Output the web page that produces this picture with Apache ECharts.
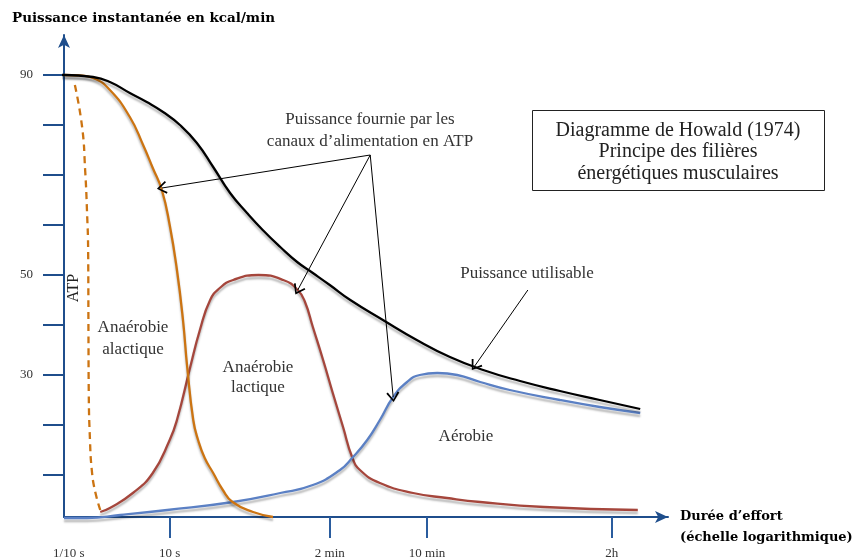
<!DOCTYPE html>
<html>
<head>
<meta charset="utf-8">
<script src="https://cdn.jsdelivr.net/npm/echarts@6/dist/echarts.min.js"></script>
<style>
html,body{margin:0;padding:0;background:#fff;}
#chart{width:858px;height:559px;}
</style>
</head>
<body>
<div id="chart"></div>
<script>
// x: position on the (schematic) logarithmic time axis, y: kcal/min
var xTickLabels = ['1/10 s', '10 s', '2 min', '10 min', '2h'];
var xTickPos = [0.8, 17.5, 44.0, 60.1, 90.7];
var xTickMarks = [17.5, 44.0, 60.1, 90.7];
var yTickMarks = [10, 20, 30, 40, 50, 60, 70, 80, 90];
var yTickLabels = [30, 50, 90];

var puissanceUtilisable = [
  [-3.5, 90], [0, 90], [4.8, 89.6], [7.6, 88.6], [10.9, 86.4], [13.7, 84.6],
  [16.4, 82.6], [19.2, 80], [22.0, 76.4], [24.7, 71.6], [27.5, 66.4],
  [30.3, 62.4], [32.9, 59], [35.8, 55.6], [38.6, 52.6], [41.2, 50.4],
  [44.0, 48], [47.4, 45], [52.8, 41], [58.4, 37],
  [63.9, 33.6], [69.4, 31], [75.5, 28.8], [82.1, 26.8], [88.7, 25], [95.4, 23.2]
];
var anaerobieAlactique = [
  [0, 90], [2.6, 89.9], [4.8, 89.4], [7.6, 87], [10.9, 81.6], [13.1, 76],
  [14.7, 71.4], [16.2, 67], [17.5, 60], [18.7, 51], [19.7, 41],
  [20.4, 31.6], [21.4, 21], [22.2, 17], [23.3, 13.4], [24.7, 10.4],
  [26.3, 7], [27.9, 4.6], [31.3, 2.6], [34.6, 1.6]
];
var atp = [
  [1.8, 88], [3.0, 79.6], [3.5, 71], [3.8, 63], [4.0, 54.4], [4.05, 38.4],
  [4.1, 26.4], [4.3, 17], [4.6, 11], [5.1, 7], [6.0, 3]
];
var anaerobieLactique = [
  [6.0, 2.6], [7.6, 3.4], [11.4, 6.4], [14.7, 10.4], [17.5, 17], [18.7, 21],
  [20.9, 31.6], [22.5, 39], [24.2, 45], [25.8, 47.4], [28.0, 49], [32.2, 50],
  [36.3, 49], [38.7, 47], [39.9, 44.6], [41.2, 39.6], [42.9, 33], [44.5, 26.4],
  [46.2, 19.6], [47.7, 13.6], [49.0, 11], [52.3, 8.4], [57.8, 6.4],
  [63.4, 5.4], [68.9, 4.6], [79.5, 3.6], [95.0, 3]
];
var aerobie = [
  [0, 1.4], [3.8, 1.4], [9.3, 2], [17.1, 3], [28.0, 4.6], [35.8, 6.4],
  [41.2, 8], [45.7, 11], [47.7, 13.4], [50.2, 17], [52.3, 21], [54.5, 25.6],
  [56.8, 28.6], [58.9, 30], [61.8, 30.4], [65.1, 30], [68.9, 28.6],
  [73.8, 27], [82.1, 25], [88.7, 23.6], [95.4, 22.4]
];
// annotation arrows [from, to] in data units
var arrowFrom = [50.7, 74];
var arrowTargets = [[16.2, 67.4], [38.7, 47], [54.5, 25.6]];
var arrowUtilisable = [[76.8, 47], [68.0, 31.8]];

var serif = '"Liberation Serif", "DejaVu Serif", serif';
var bold = '"DejaVu Serif", serif';
var axisBlue = '#1f4e8c';
var shadow = {shadowColor: 'rgba(0,0,0,0.28)', shadowBlur: 2, shadowOffsetY: 3};

function curve(name, data, color, extra) {
  return Object.assign({
    name: name, type: 'line', data: data, smooth: 0.5,
    showSymbol: false, clip: false, silent: true,
    lineStyle: Object.assign({color: color, width: 2.3}, shadow)
  }, extra || {});
}

var arrowSymbol = 'path://M5,0 L10,9 L8.8,10 L5,2.6 L1.2,10 L0,9 Z';
var mlData = arrowTargets.map(function (t) {
  return [{coord: arrowFrom}, {coord: t}];
});
mlData.push([{coord: arrowUtilisable[0]}, {coord: arrowUtilisable[1]}]);

var chart = echarts.init(document.getElementById('chart'), null, {renderer: 'canvas'});
chart.setOption({
  animation: false,
  backgroundColor: '#fff',
  grid: {left: 64, right: 190, top: 35, bottom: 42, outerBoundsMode: 'none'},
  xAxis: {
    type: 'value', min: 0, max: 100,
    splitLine: {show: false},
    axisLine: {onZero: false, lineStyle: {color: axisBlue, width: 2},
      symbol: ['none', 'arrow'], symbolSize: [9, 13]},
    axisTick: {show: true, inside: false, length: 21, customValues: xTickMarks,
      lineStyle: {color: '#2a5c9e', width: 2}},
    axisLabel: {customValues: xTickPos, margin: 30, color: '#333',
      fontFamily: serif, fontSize: 13,
      formatter: function (v) {
        var i = xTickPos.indexOf(v);
        return i >= 0 ? xTickLabels[i] : '';
      }}
  },
  yAxis: {
    type: 'value', min: 1.6, max: 98,
    splitLine: {show: false},
    axisLine: {onZero: false, lineStyle: {color: axisBlue, width: 2},
      symbol: ['none', 'arrow'], symbolSize: [9, 13]},
    axisTick: {show: true, inside: false, length: 21, customValues: yTickMarks,
      lineStyle: {color: axisBlue, width: 2}},
    axisLabel: {customValues: yTickLabels, margin: 31, color: '#333',
      fontFamily: serif, fontSize: 13}
  },
  series: [
    curve('Anaérobie lactique', anaerobieLactique, '#a5463c'),
    curve('Aérobie', aerobie, '#5b80c4'),
    curve('Anaérobie alactique', anaerobieAlactique, '#cc7412'),
    curve('ATP', atp, '#cc7412', {lineStyle: {color: '#cc7412', width: 2.3, type: [7, 5]}}),
    curve('Puissance utilisable', puissanceUtilisable, '#000', {
      markLine: {
        silent: true, symbol: ['none', arrowSymbol], symbolSize: [13, 10],
        label: {show: false},
        lineStyle: {color: '#000', width: 1, type: 'solid'},
        emphasis: {disabled: true},
        data: mlData
      }
    })
  ],
  graphic: [
    {type: 'text', x: 12, y: 18, style: {text: 'Puissance instantanée en kcal/min',
      font: 'bold 13.5px ' + bold, fill: '#000', textVerticalAlign: 'middle'}},
    {type: 'text', x: 680, y: 506, style: {text: 'Durée d\u2019effort\n(échelle logarithmique)',
      font: 'bold 13px ' + bold, fill: '#000', textVerticalAlign: 'top', lineHeight: 21}},
    {type: 'text', x: 74, y: 288, rotation: Math.PI / 2, style: {text: 'ATP',
      font: '16px ' + serif, fill: '#222', textAlign: 'center', textVerticalAlign: 'middle'}},
    {type: 'text', x: 133, y: 339, style: {text: 'Anaérobie\nalactique', lineHeight: 22,
      font: '17px ' + serif, fill: '#333', textAlign: 'center', textVerticalAlign: 'middle'}},
    {type: 'text', x: 258, y: 378, style: {text: 'Anaérobie\nlactique', lineHeight: 20,
      font: '17px ' + serif, fill: '#333', textAlign: 'center', textVerticalAlign: 'middle'}},
    {type: 'text', x: 466, y: 437, style: {text: 'Aérobie',
      font: '17px ' + serif, fill: '#333', textAlign: 'center', textVerticalAlign: 'middle'}},
    {type: 'text', x: 527, y: 274, style: {text: 'Puissance utilisable',
      font: '17px ' + serif, fill: '#333', textAlign: 'center', textVerticalAlign: 'middle'}},
    {type: 'text', x: 370, y: 131, style: {text: 'Puissance fournie par les\ncanaux d\u2019alimentation en ATP',
      lineHeight: 22, font: '17px ' + serif, fill: '#333', textAlign: 'center', textVerticalAlign: 'middle'}},
    {type: 'rect', shape: {x: 532.5, y: 110.5, width: 292, height: 80},
      style: {fill: '#fff', stroke: '#222', lineWidth: 1}},
    {type: 'text', x: 678, y: 152, style: {text: 'Diagramme de Howald (1974)\nPrincipe des filières\nénergétiques musculaires',
      lineHeight: 21.5, font: '20px ' + serif, fill: '#222', textAlign: 'center', textVerticalAlign: 'middle'}}
  ]
});
</script>
</body>
</html>
